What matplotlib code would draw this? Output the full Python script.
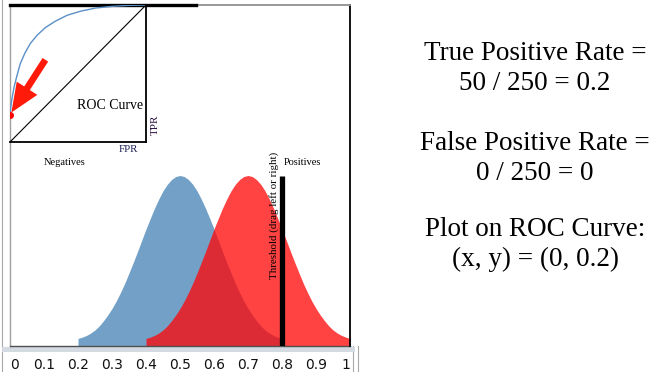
import matplotlib

matplotlib.use("Agg")
import matplotlib.pyplot as plt
from matplotlib.patches import FancyArrowPatch, Rectangle

# score axis samples (step 0.0125) and curve heights
neg_x = [0.2 + 0.0125 * i for i in range(49)]
neg_y = [0.022, 0.026, 0.031, 0.038, 0.047, 0.059, 0.074, 0.091, 0.110, 0.132, 0.157, 0.184,
         0.214, 0.245, 0.277, 0.310, 0.343, 0.374, 0.404, 0.431, 0.455, 0.474, 0.488, 0.497,
         0.500,
         0.497, 0.488, 0.474, 0.455, 0.431, 0.404, 0.374, 0.343, 0.310, 0.277, 0.245, 0.214,
         0.184, 0.157, 0.132, 0.110, 0.091, 0.074, 0.059, 0.047, 0.038, 0.031, 0.026, 0.022]
pos_x = [0.4 + 0.0125 * i for i in range(49)]
pos_y = [0.022, 0.026, 0.031, 0.038, 0.047, 0.059, 0.074, 0.091, 0.110, 0.132, 0.157, 0.184,
         0.214, 0.245, 0.277, 0.310, 0.343, 0.374, 0.404, 0.431, 0.455, 0.474, 0.488, 0.497,
         0.500,
         0.497, 0.488, 0.474, 0.455, 0.431, 0.404, 0.374, 0.343, 0.310, 0.277, 0.245, 0.214,
         0.184, 0.157, 0.132, 0.110, 0.091, 0.074, 0.059, 0.047, 0.038, 0.031, 0.026, 0.022]
threshold = 0.8
threshold_top = 0.5

roc_fpr = [0.0, 0.005, 0.015, 0.03, 0.05, 0.075, 0.11, 0.15, 0.2, 0.26, 0.33, 0.42, 0.52, 0.63, 0.75, 0.87, 1.0]
roc_tpr = [0.21, 0.25, 0.32, 0.40, 0.48, 0.57, 0.65, 0.72, 0.78, 0.835, 0.88, 0.925, 0.955, 0.978, 0.99, 0.997, 1.0]
point = (0.0, 0.2)

ticks = [0, 0.1, 0.2, 0.3, 0.4, 0.5, 0.6, 0.7, 0.8, 0.9, 1]
tick_labels = ["0", "0.1", "0.2", "0.3", "0.4", "0.5", "0.6", "0.7", "0.8", "0.9", "1"]

info_lines = ["True Positive Rate =", "50 / 250 = 0.2", "False Positive Rate =", "0 / 250 = 0",
              "Plot on ROC Curve:", "(x, y) = (0, 0.2)"]
info_y_px = [53, 83, 144, 174, 230, 259]

W, H = 651, 372
SERIF = ["Liberation Serif", "DejaVu Serif"]

fig = plt.figure(figsize=(W / 100, H / 100), dpi=100)

# axis strip below the plot
fig.patches.append(Rectangle((2 / W, 20 / H), 353 / W, 5 / H, transform=fig.transFigure,
                             facecolor="#d3dae2", edgecolor="none", zorder=-2))
for xp in [2, 353, 358]:
    y1 = 1 if xp == 2 else 26 / H
    fig.add_artist(plt.Line2D([xp / W, xp / W], [0, y1], transform=fig.transFigure,
                              color="#a8a8a8", lw=0.8, zorder=-2))

ax = fig.add_axes([10 / W, 26 / H, 340 / W, 341 / H])
ax.set_xlim(0, 1)
ax.set_ylim(0, 1)

ax.fill_between(neg_x, 0, neg_y, color="#72a0c7", lw=0)
ax.fill_between(pos_x, 0, pos_y, color="#ff0707", alpha=0.76, lw=0)
ax.vlines(threshold, 0, threshold_top, color="black", lw=3.8, zorder=5)

ax.set_xticks(ticks)
ax.set_xticklabels(tick_labels, fontsize=10, color="#111111")
ax.tick_params(axis="x", length=0, pad=8.5)
ax.set_yticks([])
labels = ax.get_xticklabels()
labels[0].set_ha("left")
labels[-1].set_ha("right")

for side in ["top", "left", "right", "bottom"]:
    ax.spines[side].set_visible(False)
ax.plot([0, 0], [0, 1], color="#a0a0a0", lw=1, transform=ax.transAxes, clip_on=False)
ax.plot([0, 1], [0, 0], color="#505050", lw=1, transform=ax.transAxes, clip_on=False)
ax.plot([1, 1], [0, 1], color="black", lw=1.3, transform=ax.transAxes, clip_on=False)
ax.plot([0.547, 1], [1, 1], color="#909090", lw=1.3, transform=ax.transAxes, clip_on=False)
ax.plot([0, 0.547], [1, 1], color="black", lw=2.4, transform=ax.transAxes, clip_on=False,
        zorder=6)

ax.text(0.162, 0.537, "Negatives", family=SERIF, fontsize=7.5, ha="center", va="center")
ax.text(0.859, 0.537, "Positives", family=SERIF, fontsize=7.5, ha="center", va="center")
ax.text(0.776, 0.569, "Threshold (drag left or right)", family=SERIF, fontsize=7.8,
        rotation=90, ha="center", va="top")
ax.text(0.347, 0.575, "FPR", family=SERIF, fontsize=7.8, ha="center", va="center",
        color="#1a1a50")
ax.text(0.428, 0.648, "TPR", family=SERIF, fontsize=8, rotation=90, ha="center",
        va="center", color="#2a1040")

# inset ROC box
inset = fig.add_axes([10 / W, (H - 142) / H, 136 / W, 137 / H])
inset.set_xlim(0, 1)
inset.set_ylim(0, 1)
inset.set_xticks([])
inset.set_yticks([])
inset.patch.set_alpha(0)
inset.spines["left"].set_visible(False)
inset.spines["top"].set_visible(False)
inset.spines["right"].set_linewidth(1.3)
inset.spines["bottom"].set_linewidth(1.3)
inset.plot([0, 1], [0, 1], color="black", lw=0.8)
inset.plot(roc_fpr, roc_tpr, color="#5b8fc7", lw=1)
inset.plot(*point, marker="o", ms=4, color="red", clip_on=True)
inset.text(0.98, 0.27, "ROC Curve", family=SERIF, fontsize=10, ha="right", va="center")
inset.add_patch(FancyArrowPatch((0.26, 0.6), (0.01, 0.215),
                                arrowstyle="simple,head_length=1.3,head_width=1.1,tail_width=0.3",
                                mutation_scale=16, shrinkA=0, shrinkB=0,
                                color="#ff1a0a", lw=0))

for text, yp in zip(info_lines, info_y_px):
    fig.text(535 / W, 1 - yp / H, text, family=SERIF, fontsize=19.5, ha="center", va="center")

fig.savefig("out.png", dpi=100)
